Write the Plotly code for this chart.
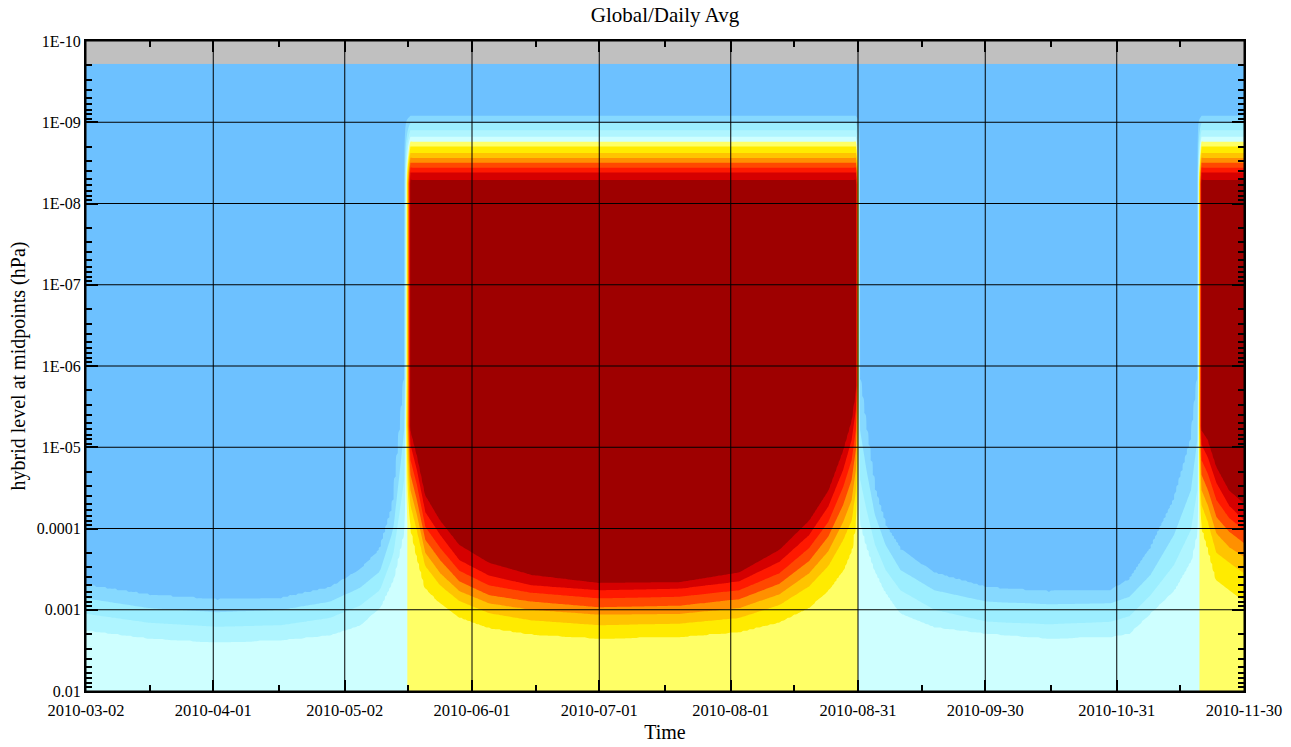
import numpy as np
import pandas as pd
import plotly.graph_objects as go

# ---------------- axis / labels ----------------
START = pd.Timestamp("2010-03-02")
x_tick_labels = ["2010-03-02", "2010-04-01", "2010-05-02", "2010-06-01", "2010-07-01",
                 "2010-08-01", "2010-08-31", "2010-09-30", "2010-10-31", "2010-11-30"]
y_tick_vals = [1e-10, 1e-9, 1e-8, 1e-7, 1e-6, 1e-5, 1e-4, 1e-3, 1e-2]
y_tick_text = ["1E-10", "1E-09", "1E-08", "1E-07", "1E-06", "1E-05", "0.0001", "0.001", "0.01"]

# colour classes (low -> high)
class_colors = ["#6DC1FF", "#86D9FF", "#9CEEFF", "#AFF5FF", "#CEFFFF",
                "#FFFF66", "#FFEB00", "#FFC400", "#FF9000", "#FF4800",
                "#FF1900", "#D50000", "#9E0000"]

# ---------------- data (log10 of pressure in hPa) ----------------
LOGP_TOP = -9.72      # uppermost model level
LOGP_BOTTOM = -2.0    # lowest level shown

# upper band edges in "on" periods (class 0|1 ... 11|12)
on_top_edges = [-9.07, -8.99, -8.90, -8.82, -8.76, -8.70, -8.62, -8.56, -8.50, -8.44, -8.38, -8.29]

# lower band edges in "on" periods (class 12|11, 11|10, ... 6|5), days since 2010-03-02
onB_days = [76.5, 78, 80, 83.5, 88, 95, 105, 121, 140, 154, 163.5, 170.5, 175, 178.5, 180.5, 181.5]
onB_edges = [
    [-5.21, -5.03, -4.84, -4.66, -4.47, -4.29, -4.04],
    [-4.90, -4.72, -4.54, -4.35, -4.17, -3.98, -3.67],
    [-4.41, -4.20, -4.02, -3.86, -3.70, -3.54, -3.27],
    [-4.10, -3.92, -3.76, -3.61, -3.45, -3.30, -3.08],
    [-3.80, -3.61, -3.48, -3.35, -3.23, -3.11, -2.91],
    [-3.58, -3.42, -3.30, -3.18, -3.08, -2.96, -2.78],
    [-3.43, -3.30, -3.21, -3.10, -3.00, -2.87, -2.70],
    [-3.33, -3.24, -3.14, -3.03, -2.94, -2.81, -2.65],
    [-3.34, -3.26, -3.16, -3.05, -2.95, -2.83, -2.67],
    [-3.46, -3.35, -3.24, -3.13, -3.02, -2.90, -2.73],
    [-3.74, -3.59, -3.45, -3.32, -3.19, -3.06, -2.85],
    [-4.10, -3.92, -3.76, -3.60, -3.45, -3.29, -3.03],
    [-4.47, -4.27, -4.08, -3.90, -3.72, -3.54, -3.24],
    [-4.97, -4.72, -4.51, -4.29, -4.08, -3.86, -3.49],
    [-5.34, -5.09, -4.84, -4.60, -4.35, -4.10, -3.74],
    [-5.70, -5.46, -5.21, -4.97, -4.72, -4.47, -4.10],
]
onD_days = [263, 264.5, 266.5, 269.5, 273]
onD_edges = [
    [-5.21, -5.03, -4.84, -4.66, -4.47, -4.29, -4.04],
    [-5.09, -4.87, -4.67, -4.47, -4.28, -4.08, -3.76],
    [-4.76, -4.56, -4.35, -4.14, -3.94, -3.70, -3.37],
    [-4.47, -4.28, -4.13, -3.96, -3.77, -3.58, -3.24],
    [-4.31, -4.10, -3.98, -3.82, -3.65, -3.45, -3.12],
]

# band edges in "off" periods (class 0|1, 1|2, 2|3, 3|4)
offA_days = [0, 15, 31, 46, 57.5, 64.6, 69.3, 72.4, 74, 75]
offA_edges = [
    [-3.30, -3.14, -2.95, -2.75],
    [-3.18, -3.02, -2.84, -2.65],
    [-3.12, -2.97, -2.79, -2.60],
    [-3.14, -3.00, -2.81, -2.63],
    [-3.27, -3.10, -2.90, -2.69],
    [-3.49, -3.27, -3.05, -2.81],
    [-3.74, -3.47, -3.24, -3.03],
    [-4.29, -3.98, -3.67, -3.37],
    [-5.21, -4.72, -4.23, -3.74],
    [-5.83, -5.21, -4.60, -3.98],
]
offC_days = [182.5, 184, 186, 188.5, 192, 200, 212.5, 227, 241.5, 246, 251, 256.5, 260.5, 262]
offC_edges = [
    [-5.83, -5.21, -4.60, -4.10],
    [-5.21, -4.72, -4.23, -3.80],
    [-4.47, -4.17, -3.80, -3.49],
    [-4.04, -3.80, -3.49, -3.22],
    [-3.74, -3.49, -3.24, -2.96],
    [-3.45, -3.24, -3.00, -2.79],
    [-3.27, -3.10, -2.85, -2.71],
    [-3.22, -3.07, -2.82, -2.65],
    [-3.24, -3.08, -2.85, -2.67],
    [-3.37, -3.16, -2.92, -2.71],
    [-3.76, -3.43, -3.18, -2.96],
    [-4.35, -3.92, -3.55, -3.24],
    [-5.09, -4.47, -3.98, -3.61],
    [-5.83, -5.09, -4.47, -3.98],
]

# ---------------- build the gridded field ----------------
logp = np.arange(LOGP_TOP, LOGP_BOTTOM + 1e-9, 0.02)


def period_grid(days, edges, step=0.5):
    days = np.asarray(days, float)
    e = np.asarray(edges, float)
    g = np.arange(days[0], days[-1] + 1e-9, step)
    if g[-1] < days[-1] - 1e-9:
        g = np.append(g, days[-1])
    eg = np.column_stack([np.interp(g, days, e[:, j]) for j in range(e.shape[1])])
    return g, eg


def on_column(bb):
    xk = [LOGP_TOP] + on_top_edges + [on_top_edges[-1] + 0.05, bb[0] - 0.05] + list(bb) + [LOGP_BOTTOM]
    zk = [0.0] + [k + 0.5 for k in range(12)] + [12.0, 12.0] + [11.5 - k for k in range(7)] + [5.0]
    return np.interp(logp, xk, zk)


def off_column(bb):
    xk = [LOGP_TOP] + list(bb) + [LOGP_BOTTOM]
    zk = [0.0, 0.5, 1.5, 2.5, 3.5, 4.0]
    return np.interp(logp, xk, zk)


cols_days, cols_z = [], []
for days, edges, kind in [(offA_days, offA_edges, "off"), (onB_days, onB_edges, "on"),
                          (offC_days, offC_edges, "off"), (onD_days, onD_edges, "on")]:
    g, eg = period_grid(days, edges)
    for d, bb in zip(g, eg):
        cols_days.append(d)
        cols_z.append(on_column(bb) if kind == "on" else off_column(bb))

Z = np.round(np.column_stack(cols_z), 3)
x_dates = [START + pd.Timedelta(days=float(d)) for d in cols_days]
y_press = 10.0 ** logp

n = len(class_colors)
colorscale = []
for i, c in enumerate(class_colors):
    colorscale.append([i / n, c])
    colorscale.append([(i + 1) / n, c])

fig = go.Figure()
fig.add_trace(go.Contour(
    x=x_dates, y=y_press, z=Z,
    colorscale=colorscale, zmin=-0.5, zmax=12.5, zauto=False,
    contours=dict(coloring="fill", start=0.5, end=11.5, size=1, showlines=False),
    line=dict(width=0), showscale=False, hoverinfo="skip",
))

# grid lines drawn above the field
x_ticks = [pd.Timestamp(s) for s in x_tick_labels]
x_end = x_ticks[-1]
gx, gy = [], []
for t in x_ticks:
    gx += [t, t, None]
    gy += [y_tick_vals[0], y_tick_vals[-1], None]
for v in y_tick_vals:
    gx += [x_ticks[0], x_end, None]
    gy += [v, v, None]
fig.add_trace(go.Scatter(x=gx, y=gy, mode="lines", line=dict(color="black", width=1),
                         hoverinfo="skip", showlegend=False))

x_minor = [x_ticks[i] + (x_ticks[i + 1] - x_ticks[i]) / 2 for i in range(len(x_ticks) - 1)]
y_minor = [k * 10.0 ** e for e in range(-10, -2) for k in range(2, 10)]

FONT = "Liberation Serif, Times New Roman, serif"
fig.update_layout(
    width=1291, height=747,
    margin=dict(l=86, r=47, t=41, b=56),
    paper_bgcolor="white", plot_bgcolor="#c0c0c0",
    font=dict(family=FONT, size=16, color="black"),
    title=dict(text="Global/Daily Avg", x=0.5, xref="paper", xanchor="center",
               yref="container", y=1 - 15 / 747, yanchor="middle",
               font=dict(family=FONT, size=21, color="black")),
    showlegend=False, hovermode=False,
    xaxis=dict(
        type="date", range=[x_ticks[0], x_end], tickmode="array", tickvals=x_ticks,
        ticktext=x_tick_labels, ticks="inside", ticklen=11, tickwidth=2, tickcolor="black",
        showline=True, linewidth=2, linecolor="black", mirror="ticks", showgrid=False,
        zeroline=False, tickfont=dict(family=FONT, size=16.5), automargin=False,
        ticklabelstandoff=3,
        minor=dict(tickmode="array", tickvals=x_minor, ticks="inside", ticklen=6,
                   tickwidth=2, tickcolor="black", showgrid=False),
        title=dict(text="Time", font=dict(family=FONT, size=20), standoff=6),
    ),
    yaxis=dict(
        type="log", range=[-2, -10], autorange=False, tickmode="array", tickvals=y_tick_vals,
        ticktext=y_tick_text, ticks="inside", ticklen=12, tickwidth=2, tickcolor="black",
        showline=True, linewidth=2, linecolor="black", mirror="ticks", showgrid=False,
        zeroline=False, tickfont=dict(family=FONT, size=16), automargin=False,
        minor=dict(tickmode="array", tickvals=y_minor, ticks="inside", ticklen=6,
                   tickwidth=1.5, tickcolor="black", showgrid=False),
        title=dict(text="hybrid level at midpoints (hPa)", font=dict(family=FONT, size=20), standoff=6),
    ),
)

fig.write_html("out.html", config={"displayModeBar": False},
               post_script="document.body.style.margin='0';document.body.style.overflow='hidden';")
